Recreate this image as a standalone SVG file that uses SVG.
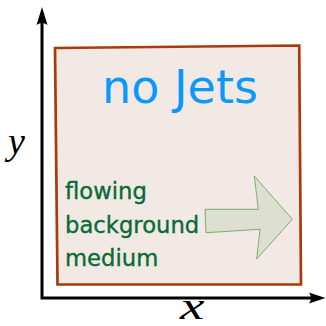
<svg xmlns="http://www.w3.org/2000/svg" width="326" height="326" viewBox="0 0 326 326">
<style>
.axis{fill:none;stroke:#000;stroke-width:3}
.head{fill:#000}
.lbl{font-family:"Liberation Serif","Times New Roman",serif;font-style:italic;font-size:38px;fill:#000}
.green{font-family:"DejaVu Sans",sans-serif;font-size:22.7px;fill:#086b38;stroke:#086b38;stroke-width:0.35}
</style>
<rect width="326" height="326" fill="#fff"/>
<g id="box">
<polygon points="55,48 299.2,45.5 301,284.5 57.5,284.5" fill="#f2e9e4" stroke="#a83a0c" stroke-width="2.7" stroke-linejoin="miter"/>
</g>
<g id="title">
<text x="180" y="103" text-anchor="middle" font-family="DejaVu Sans, sans-serif" font-size="46" fill="#0a99fa">no Jets</text>
</g>
<g id="medium">
<text class="green" x="65" y="199">flowing</text>
<text class="green" x="65" y="232.5">background</text>
<text class="green" x="65" y="266">medium</text>
</g>
<g id="flow-arrow">
<polygon points="205,209.3 258.3,209.3 254.3,176 292.3,219.3 256.7,259 260,229.3 206,232.7" fill="#dde0d0" stroke="#5e9f52" stroke-width="0.8" stroke-linejoin="miter"/>
</g>
<g id="connectors">
<polyline class="axis" points="42,20 42,298 312,298"/>
<path class="head" d="M42,7 L47.5,25 Q42,21 36.5,25 Z"/>
<path class="head" d="M325.5,298 L309,292.5 Q313,298 309,303.5 Z"/>
</g>
<g id="axis-labels">
<text class="lbl" x="8" y="154">y</text>
<text class="lbl" x="180" y="319.5" font-size="27" transform="translate(180 319.5) scale(1.45 1) translate(-180 -319.5)">x</text>
</g>
</svg>
